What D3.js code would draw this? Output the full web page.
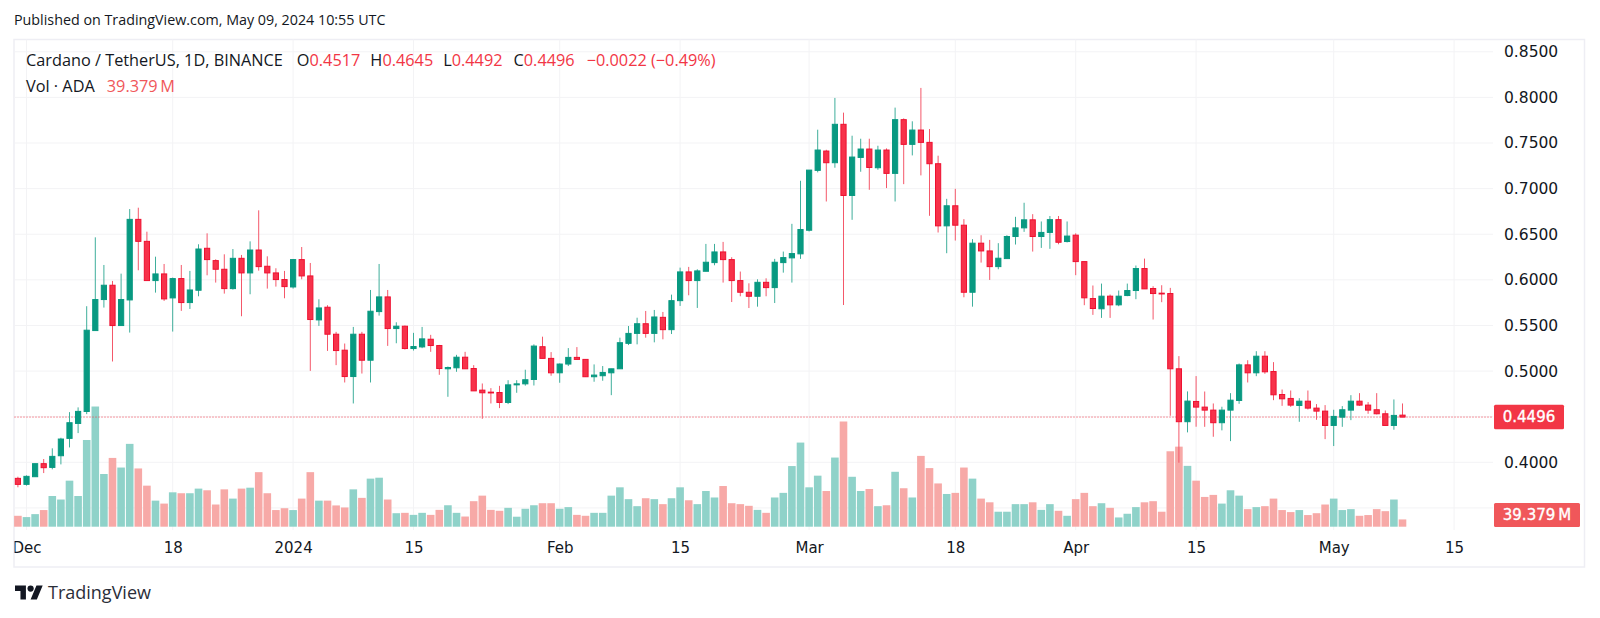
<!DOCTYPE html>
<html>
<head>
<meta charset="utf-8">
<script src="https://cdn.jsdelivr.net/npm/d3@7"></script>
<style>
  html, body { margin: 0; padding: 0; background: #fff; }
  text { font-family: "Open Sans", sans-serif; }
</style>
</head>
<body>
<div id="chart"></div>
<script>
// daily candles from 2023-11-30: open, high, low, close, volume (millions of ADA)
var rows = [
  [.3824,.3842,.3726,.3758,59],[.3758,.3857,.3744,.3846,52],[.3842,.3985,.3842,.3985,68],[.3985,.4036,.3882,.3941,90],
  [.3944,.4153,.3923,.4065,166],[.4072,.4269,.3977,.4255,147],[.4262,.4550,.4163,.4434,249],[.4426,.4602,.4320,.4558,166],
  [.4557,.5711,.4528,.5448,469],[.5444,.6466,.5444,.5784,650],[.5784,.6163,.5696,.5941,285],[.5941,.5988,.5105,.5499,372],
  [.5499,.6068,.5499,.5784,320],[.5780,.6776,.5422,.6663,448],[.6663,.6791,.6105,.6422,315],[.6422,.6528,.5992,.5992,222],
  [.5992,.6254,.5860,.6065,141],[.6065,.6174,.5769,.5791,125],[.5802,.6025,.5433,.6014,186],[.6014,.6163,.5660,.5751,181],
  [.5751,.6098,.5681,.5889,181],[.5886,.6390,.5820,.6338,206],[.6346,.6510,.6050,.6222,197],[.6211,.6225,.5970,.6116,120],
  [.6116,.6280,.5849,.5904,202],[.5904,.6338,.5893,.6236,152],[.6236,.6273,.5601,.6076,206],[.6076,.6422,.5842,.6327,211],
  [.6327,.6762,.6101,.6145,295],[.6149,.6258,.5904,.6076,181],[.6076,.6127,.5926,.6003,90],[.6003,.6098,.5798,.5926,100],
  [.5922,.6229,.5904,.6222,90],[.6222,.6360,.6006,.6043,152],[.6043,.6185,.5002,.5565,295],[.5561,.5787,.5495,.5692,141],
  [.5700,.5722,.5221,.5404,141],[.5404,.5430,.5065,.5225,115],[.5229,.5302,.4875,.4940,104],[.4940,.5484,.4645,.5404,202],
  [.5404,.5430,.4973,.5119,156],[.5119,.5889,.4875,.5656,260],[.5652,.6174,.5608,.5813,265],[.5813,.5889,.5276,.5466,147],
  [.5466,.5535,.5305,.5492,73],[.5492,.5499,.5236,.5247,75],[.5247,.5419,.5225,.5269,64],[.5265,.5484,.5251,.5353,75],
  [.5349,.5397,.5211,.5280,64],[.5280,.5287,.4959,.5028,91],[.5025,.5050,.4718,.5039,116],[.5036,.5178,.4992,.5152,75],
  [.5152,.5211,.5025,.5025,55],[.5028,.5065,.4783,.4783,138],[.4791,.4864,.4477,.4762,168],[.4769,.4813,.4645,.4762,91],
  [.4765,.4838,.4594,.4656,86],[.4656,.4900,.4638,.4849,102],[.4849,.4900,.4762,.4860,54],[.4860,.5015,.4840,.4905,97],
  [.4908,.5293,.4842,.5274,116],[.5267,.5377,.5139,.5139,127],[.5139,.5208,.4949,.4981,127],[.4981,.5084,.4872,.5077,97],
  [.5077,.5252,.5055,.5150,106],[.5150,.5263,.5128,.5128,64],[.5128,.5128,.4938,.4938,59],[.4938,.5073,.4883,.4956,75],
  [.4949,.5055,.4894,.4985,75],[.4981,.5025,.4736,.5025,168],[.5025,.5366,.5025,.5311,213],[.5304,.5494,.5285,.5413,149],
  [.5413,.5585,.5293,.5519,111],[.5519,.5659,.5366,.5413,154],[.5413,.5670,.5315,.5593,149],[.5589,.5648,.5348,.5454,122],
  [.5454,.5838,.5406,.5772,154],[.5772,.6134,.5714,.6087,213],[.6087,.6142,.5831,.5992,143],[.5992,.6116,.5692,.6098,122],
  [.6094,.6394,.6094,.6193,193],[.6189,.6394,.6160,.6306,158],[.6306,.6416,.5970,.6222,220],[.6222,.6248,.5757,.5992,127],
  [.5992,.6091,.5820,.5864,122],[.5864,.5962,.5691,.5820,113],[.5820,.6006,.5706,.5973,91],[.5973,.6017,.5820,.5915,75],
  [.5915,.6230,.5746,.6193,158],[.6189,.6310,.6079,.6244,183],[.6241,.6614,.5970,.6288,328],[.6285,.7086,.6230,.6552,455],
  [.6544,.7203,.6530,.7203,213],[.7200,.7646,.7178,.7423,276],[.7412,.7426,.6859,.7284,193],[.7284,.7994,.7229,.7705,374],
  [.7705,.7833,.5724,.6925,569],[.6925,.7580,.6658,.7346,270],[.7342,.7547,.7185,.7434,193],[.7434,.7547,.6987,.7232,204],
  [.7229,.7470,.7207,.7423,111],[.7423,.7441,.7006,.7167,116],[.7167,.7888,.6859,.7756,297],[.7756,.7770,.7049,.7485,208],
  [.7485,.7738,.7364,.7642,158],[.7642,.8104,.7145,.7507,383],[.7507,.7653,.6702,.7273,317],[.7273,.7361,.6519,.6592,234],
  [.6592,.6888,.6292,.6812,177],[.6812,.6998,.6431,.6599,183],[.6599,.6665,.5809,.5864,320],[.5864,.6446,.5706,.6402,260],
  [.6402,.6489,.6189,.6317,152],[.6317,.6438,.5999,.6145,132],[.6145,.6402,.6116,.6237,81],[.6233,.6489,.6233,.6475,81],
  [.6475,.6691,.6387,.6570,122],[.6570,.6845,.6526,.6658,122],[.6658,.6720,.6310,.6475,132],[.6475,.6640,.6350,.6520,91],
  [.6520,.6700,.6340,.6660,122],[.6660,.6700,.6390,.6412,86],[.6420,.6640,.6410,.6480,59],[.6490,.6510,.6051,.6200,149],
  [.6200,.6200,.5722,.5803,183],[.5795,.5938,.5616,.5686,111],[.5683,.5959,.5583,.5821,127],[.5821,.5839,.5583,.5726,102],
  [.5726,.5883,.5711,.5821,50],[.5828,.5959,.5821,.5883,70],[.5883,.6157,.5788,.6124,106],[.6124,.6233,.5901,.5901,132],
  [.5905,.5930,.5565,.5850,138],[.5854,.5941,.5755,.5846,81],[.5850,.5912,.4510,.5025,408],[.5025,.5164,.3995,.4445,433],
  [.4445,.4777,.4328,.4671,329],[.4667,.4945,.4390,.4605,249],[.4605,.4776,.4389,.4572,161],[.4572,.4645,.4280,.4434,172],
  [.4434,.4609,.4350,.4572,125],[.4572,.4758,.4232,.4681,197],[.4678,.5083,.4641,.5068,168],[.5068,.5119,.4875,.4981,95],
  [.4981,.5218,.4944,.5163,106],[.5163,.5218,.4970,.4992,111],[.4995,.5098,.4681,.4740,152],[.4743,.4798,.4619,.4696,90],
  [.4700,.4787,.4608,.4627,79],[.4623,.4703,.4444,.4670,90],[.4670,.4787,.4579,.4594,63],[.4594,.4638,.4466,.4561,73],
  [.4561,.4627,.4254,.4404,120],[.4404,.4576,.4178,.4503,152],[.4495,.4616,.4389,.4576,90],[.4572,.4736,.4462,.4670,95],
  [.4670,.4758,.4619,.4627,59],[.4627,.4660,.4532,.4572,63],[.4576,.4758,.4525,.4532,95],[.4532,.4568,.4404,.4404,84],
  [.4404,.4689,.4357,.4514,147],[.4517,.4645,.4492,.4496,39.379]
];

var start = new Date(Date.UTC(2023, 10, 30));
var data = rows.map(function(r, i) {
  return {date: d3.utcDay.offset(start, i), o: r[0], h: r[1], l: r[2], c: r[3], v: r[4]};
});

var width = 1600, height = 618;
var plot = {left: 14.5, right: 1493, top: 39.5, bottom: 530};
var GREEN = "#089981", RED = "#f23645";
var AXIS_FONT = '"DejaVu Sans", sans-serif';
var last = data[data.length - 1];

var svg = d3.select("#chart").append("svg")
  .attr("width", width)
  .attr("height", height)
  .style("display", "block");

// one day is 8.6px on this chart
var xScale = d3.scaleUtc()
  .domain([new Date(Date.UTC(2023, 11, 1)), new Date(Date.UTC(2024, 4, 1))])
  .range([26.5, 26.5 + 152 * 8.6]);

var yScale = d3.scaleLinear()
  .domain([0.4, 0.8])
  .range([462.3, 97.4]);

var volScale = d3.scaleLinear()
  .domain([0, 569])
  .range([526.7, 421.5]);

var xTicks = [
  [2023, 11, 1, "Dec"], [2023, 11, 18, "18"], [2024, 0, 1, "2024"], [2024, 0, 15, "15"],
  [2024, 1, 1, "Feb"], [2024, 1, 15, "15"], [2024, 2, 1, "Mar"], [2024, 2, 18, "18"],
  [2024, 3, 1, "Apr"], [2024, 3, 15, "15"], [2024, 4, 1, "May"], [2024, 4, 15, "15"]
].map(function(t) { return {date: new Date(Date.UTC(t[0], t[1], t[2])), label: t[3]}; });

var gridPrices = [0.35, 0.4, 0.45, 0.5, 0.55, 0.6, 0.65, 0.7, 0.75, 0.8, 0.85];
// 0.45 and 0.35 sit behind the last price and volume tags
var labelPrices = [0.4, 0.5, 0.55, 0.6, 0.65, 0.7, 0.75, 0.8, 0.85];

svg.append("defs").append("clipPath").attr("id", "plot-clip")
  .append("rect")
  .attr("x", plot.left).attr("y", plot.top)
  .attr("width", 1585 - plot.left).attr("height", 567 - plot.top);

// header
svg.append("text")
  .attr("x", 14).attr("y", 25)
  .attr("font-size", 14.3).attr("fill", "#131722")
  .text("Published on TradingView.com, May 09, 2024 10:55 UTC");

// frame
svg.append("rect")
  .attr("x", plot.left - 0.5).attr("y", plot.top)
  .attr("width", 1585 - plot.left).attr("height", 567 - plot.top)
  .attr("fill", "none").attr("stroke", "#eeeef4").attr("stroke-width", 1.5);

// grid
svg.append("g").selectAll("line")
  .data(gridPrices).enter().append("line")
  .attr("x1", plot.left).attr("x2", plot.right)
  .attr("y1", function(d) { return yScale(d); })
  .attr("y2", function(d) { return yScale(d); })
  .attr("stroke", "#f3f3f5");

svg.append("g").selectAll("line")
  .data(xTicks).enter().append("line")
  .attr("x1", function(d) { return xScale(d.date); })
  .attr("x2", function(d) { return xScale(d.date); })
  .attr("y1", plot.top).attr("y2", plot.bottom)
  .attr("stroke", "#f3f3f5");

// volume
svg.append("g").selectAll("rect")
  .data(data).enter().append("rect")
  .attr("x", function(d) { return xScale(d.date) - 3.8; })
  .attr("y", function(d) { return volScale(d.v); })
  .attr("width", 7.6)
  .attr("height", function(d) { return volScale(0) - volScale(d.v); })
  .attr("fill", function(d) { return d.c >= d.o ? "#8fd2c9" : "#f7a9a7"; });

// last price line
svg.append("line")
  .attr("x1", plot.left).attr("x2", plot.right)
  .attr("y1", yScale(last.c)).attr("y2", yScale(last.c))
  .attr("stroke", RED).attr("stroke-width", 1)
  .attr("stroke-dasharray", "1 2");

// wicks
svg.append("g").selectAll("line")
  .data(data).enter().append("line")
  .attr("x1", function(d) { return xScale(d.date); })
  .attr("x2", function(d) { return xScale(d.date); })
  .attr("y1", function(d) { return yScale(d.h); })
  .attr("y2", function(d) { return yScale(d.l); })
  .attr("stroke", function(d) { return d.c >= d.o ? "#3fae9b" : "#f4586a"; })
  .attr("stroke-width", 1);

// bodies
svg.append("g").selectAll("rect")
  .data(data).enter().append("rect")
  .attr("x", function(d) { return xScale(d.date) - 2.6; })
  .attr("y", function(d) { return yScale(Math.max(d.o, d.c)); })
  .attr("width", 5.2)
  .attr("height", function(d) { return Math.max(0.8, Math.abs(yScale(d.o) - yScale(d.c))); })
  .attr("fill", function(d) { return d.c >= d.o ? GREEN : "#f7324a"; })
  .attr("stroke", function(d) { return d.c >= d.o ? GREEN : "#ee1030"; })
  .attr("stroke-width", 1);

// date axis, clipped so "Dec" gets cut by the left edge
var xAxis = svg.append("g")
  .attr("clip-path", "url(#plot-clip)")
  .append("g")
  .attr("transform", "translate(0,530)")
  .call(d3.axisBottom(xScale)
    .tickValues(xTicks.map(function(d) { return d.date; }))
    .tickSize(0)
    .tickPadding(12)
    .tickFormat(function(d, i) { return xTicks[i].label; }));
xAxis.select(".domain").remove();
xAxis.selectAll("text")
  .style("font-family", AXIS_FONT)
  .attr("font-size", 15).attr("fill", "#131722");

// price axis
var yAxis = svg.append("g")
  .attr("transform", "translate(1504,0)")
  .call(d3.axisRight(yScale)
    .tickValues(labelPrices)
    .tickSize(0)
    .tickFormat(d3.format(".4f")));
yAxis.select(".domain").remove();
yAxis.selectAll("text")
  .style("font-family", AXIS_FONT)
  .attr("x", 0)
  .attr("font-size", 15.5).attr("fill", "#131722");

// last price and volume tags
function tag(y, w, h, fill, label) {
  svg.append("rect")
    .attr("x", 1494).attr("y", y).attr("width", w).attr("height", h)
    .attr("rx", 1.5).attr("fill", fill);
  svg.append("text")
    .attr("x", 1494 + w / 2).attr("y", y + h / 2 + 5.4)
    .attr("text-anchor", "middle").attr("fill", "#fff")
    .attr("stroke", "#fff").attr("stroke-width", 0.35)
    .attr("font-size", 15)
    .style("font-family", AXIS_FONT)
    .text(label);
}
tag(yScale(last.c) - 12.3, 70, 24.6, RED, d3.format(".4f")(last.c));
tag(503, 86, 24, "#f0575a", "39.379\u2009M");

// legend
var legend = svg.append("text").attr("x", 26).attr("y", 66).attr("font-size", 16.3);
function seg(t, color, dx) {
  legend.append("tspan").attr("dx", dx || 0).attr("fill", color).text(t);
}
seg("Cardano / TetherUS, 1D, BINANCE", "#131722");
seg("O", "#131722", 14);
seg("0.4517", RED);
seg("H", "#131722", 10);
seg("0.4645", RED);
seg("L", "#131722", 10);
seg("0.4492", RED);
seg("C", "#131722", 11);
seg("0.4496", RED);
seg("\u22120.0022 (\u22120.49%)", RED, 12);

var legend2 = svg.append("text").attr("x", 26).attr("y", 92).attr("font-size", 16.3);
legend2.append("tspan").attr("fill", "#131722").text("Vol \u00b7 ADA");
legend2.append("tspan").attr("dx", 12).attr("fill", "#f0575a").text("39.379\u2009M");

// logo
var logo = svg.append("g").attr("transform", "translate(15,585.5) scale(0.78)").attr("fill", "#131722");
logo.append("path").attr("d", "M14 22H7V11H0V4h14v18zM28 22h-8l7.5-18h8L28 22z").attr("transform", "translate(0,-4)");
logo.append("circle").attr("cx", 20).attr("cy", 4).attr("r", 4);
svg.append("text")
  .attr("x", 48).attr("y", 599)
  .attr("font-size", 18).attr("fill", "#2a2e39")
  .text("TradingView");
</script>
</body>
</html>
